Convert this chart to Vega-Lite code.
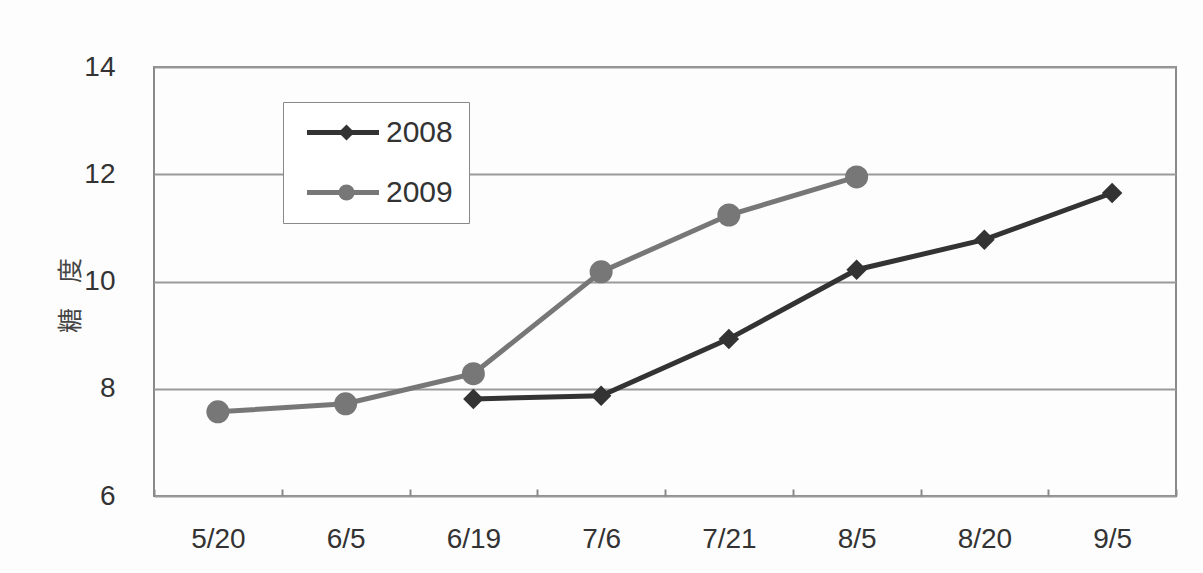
{
  "$schema": "https://vega.github.io/schema/vega-lite/v6.json",
  "width": 1022,
  "height": 429,
  "autosize": "none",
  "padding": {"left": 154, "top": 67, "right": 27, "bottom": 77},
  "background": "#fdfdfd",
  "config": {
    "view": {"stroke": "#8a8a8a", "strokeWidth": 2},
    "font": "Liberation Sans"
  },
  "data": {
    "values": [
      {"date": "5/20", "year": "2009", "value": 7.57},
      {"date": "6/5", "year": "2009", "value": 7.72},
      {"date": "6/19", "year": "2009", "value": 8.28},
      {"date": "7/6", "year": "2009", "value": 10.18},
      {"date": "7/21", "year": "2009", "value": 11.24},
      {"date": "8/5", "year": "2009", "value": 11.95},
      {"date": "6/19", "year": "2008", "value": 7.81},
      {"date": "7/6", "year": "2008", "value": 7.87},
      {"date": "7/21", "year": "2008", "value": 8.93},
      {"date": "8/5", "year": "2008", "value": 10.22},
      {"date": "8/20", "year": "2008", "value": 10.78},
      {"date": "9/5", "year": "2008", "value": 11.65}
    ]
  },
  "encoding": {
    "x": {
      "field": "date",
      "type": "ordinal",
      "sort": ["5/20", "6/5", "6/19", "7/6", "7/21", "8/5", "8/20", "9/5"],
      "scale": {"paddingInner": 0, "paddingOuter": 0},
      "axis": {
        "title": null,
        "labelAngle": 0,
        "tickBand": "extent",
        "grid": false,
        "domain": false,
        "ticks": true,
        "tickSize": -7,
        "tickColor": "#8a8a8a",
        "tickWidth": 2,
        "labelFontSize": 28,
        "labelColor": "#333333",
        "labelPadding": 36
      }
    },
    "y": {
      "field": "value",
      "type": "quantitative",
      "scale": {"domain": [6, 14], "zero": false},
      "axis": {
        "values": [6, 8, 10, 12, 14],
        "title": "糖　度",
        "titleFont": "Noto Sans CJK JP",
        "titleFontSize": 25,
        "titleFontWeight": "normal",
        "titleColor": "#444444",
        "titleAngle": -90,
        "titleBaseline": "middle",
        "titleX": -84,
        "titleY": 228,
        "domain": false,
        "ticks": false,
        "grid": true,
        "gridColor": "#9a9a9a",
        "gridWidth": 2,
        "labelFontSize": 28,
        "labelColor": "#333333",
        "labelPadding": 39
      }
    }
  },
  "layer": [
    {
      "mark": {"type": "line", "strokeWidth": 5},
      "encoding": {
        "color": {
          "field": "year",
          "type": "nominal",
          "scale": {"domain": ["2008", "2009"], "range": ["#333333", "#777777"]},
          "legend": {
            "title": null,
            "orient": "none",
            "legendX": 129,
            "legendY": 35,
            "strokeColor": "#888888",
            "fillColor": "#ffffff",
            "padding": 15.5,
            "symbolType": "M-3.13,0H3.13",
            "symbolSize": 529,
            "symbolStrokeWidth": 5,
            "symbolOffset": 29.5,
            "labelOffset": 28,
            "rowPadding": 30,
            "labelFontSize": 30,
            "labelColor": "#333333"
          }
        }
      }
    },
    {
      "mark": {"type": "point", "filled": true, "opacity": 1},
      "encoding": {
        "color": {
          "field": "year",
          "type": "nominal",
          "scale": {"domain": ["2008", "2009"], "range": ["#333333", "#777777"]},
          "legend": {
            "title": null,
            "orient": "none",
            "legendX": 129,
            "legendY": 35,
            "padding": 15.5,
            "symbolSize": 260,
            "symbolType": {"expr": "datum.value === '2008' ? 'diamond' : 'circle'"},
            "symbolOffset": 33,
            "labelOffset": 600,
            "rowPadding": 30,
            "labelFontSize": 30,
            "labelOpacity": 0
          }
        },
        "shape": {
          "field": "year",
          "type": "nominal",
          "scale": {"domain": ["2008", "2009"], "range": ["diamond", "circle"]},
          "legend": null
        },
        "size": {
          "field": "year",
          "type": "nominal",
          "scale": {"domain": ["2008", "2009"], "range": [420, 529]},
          "legend": null
        }
      }
    }
  ],
  "resolve": {"scale": {"color": "independent"}}
}
